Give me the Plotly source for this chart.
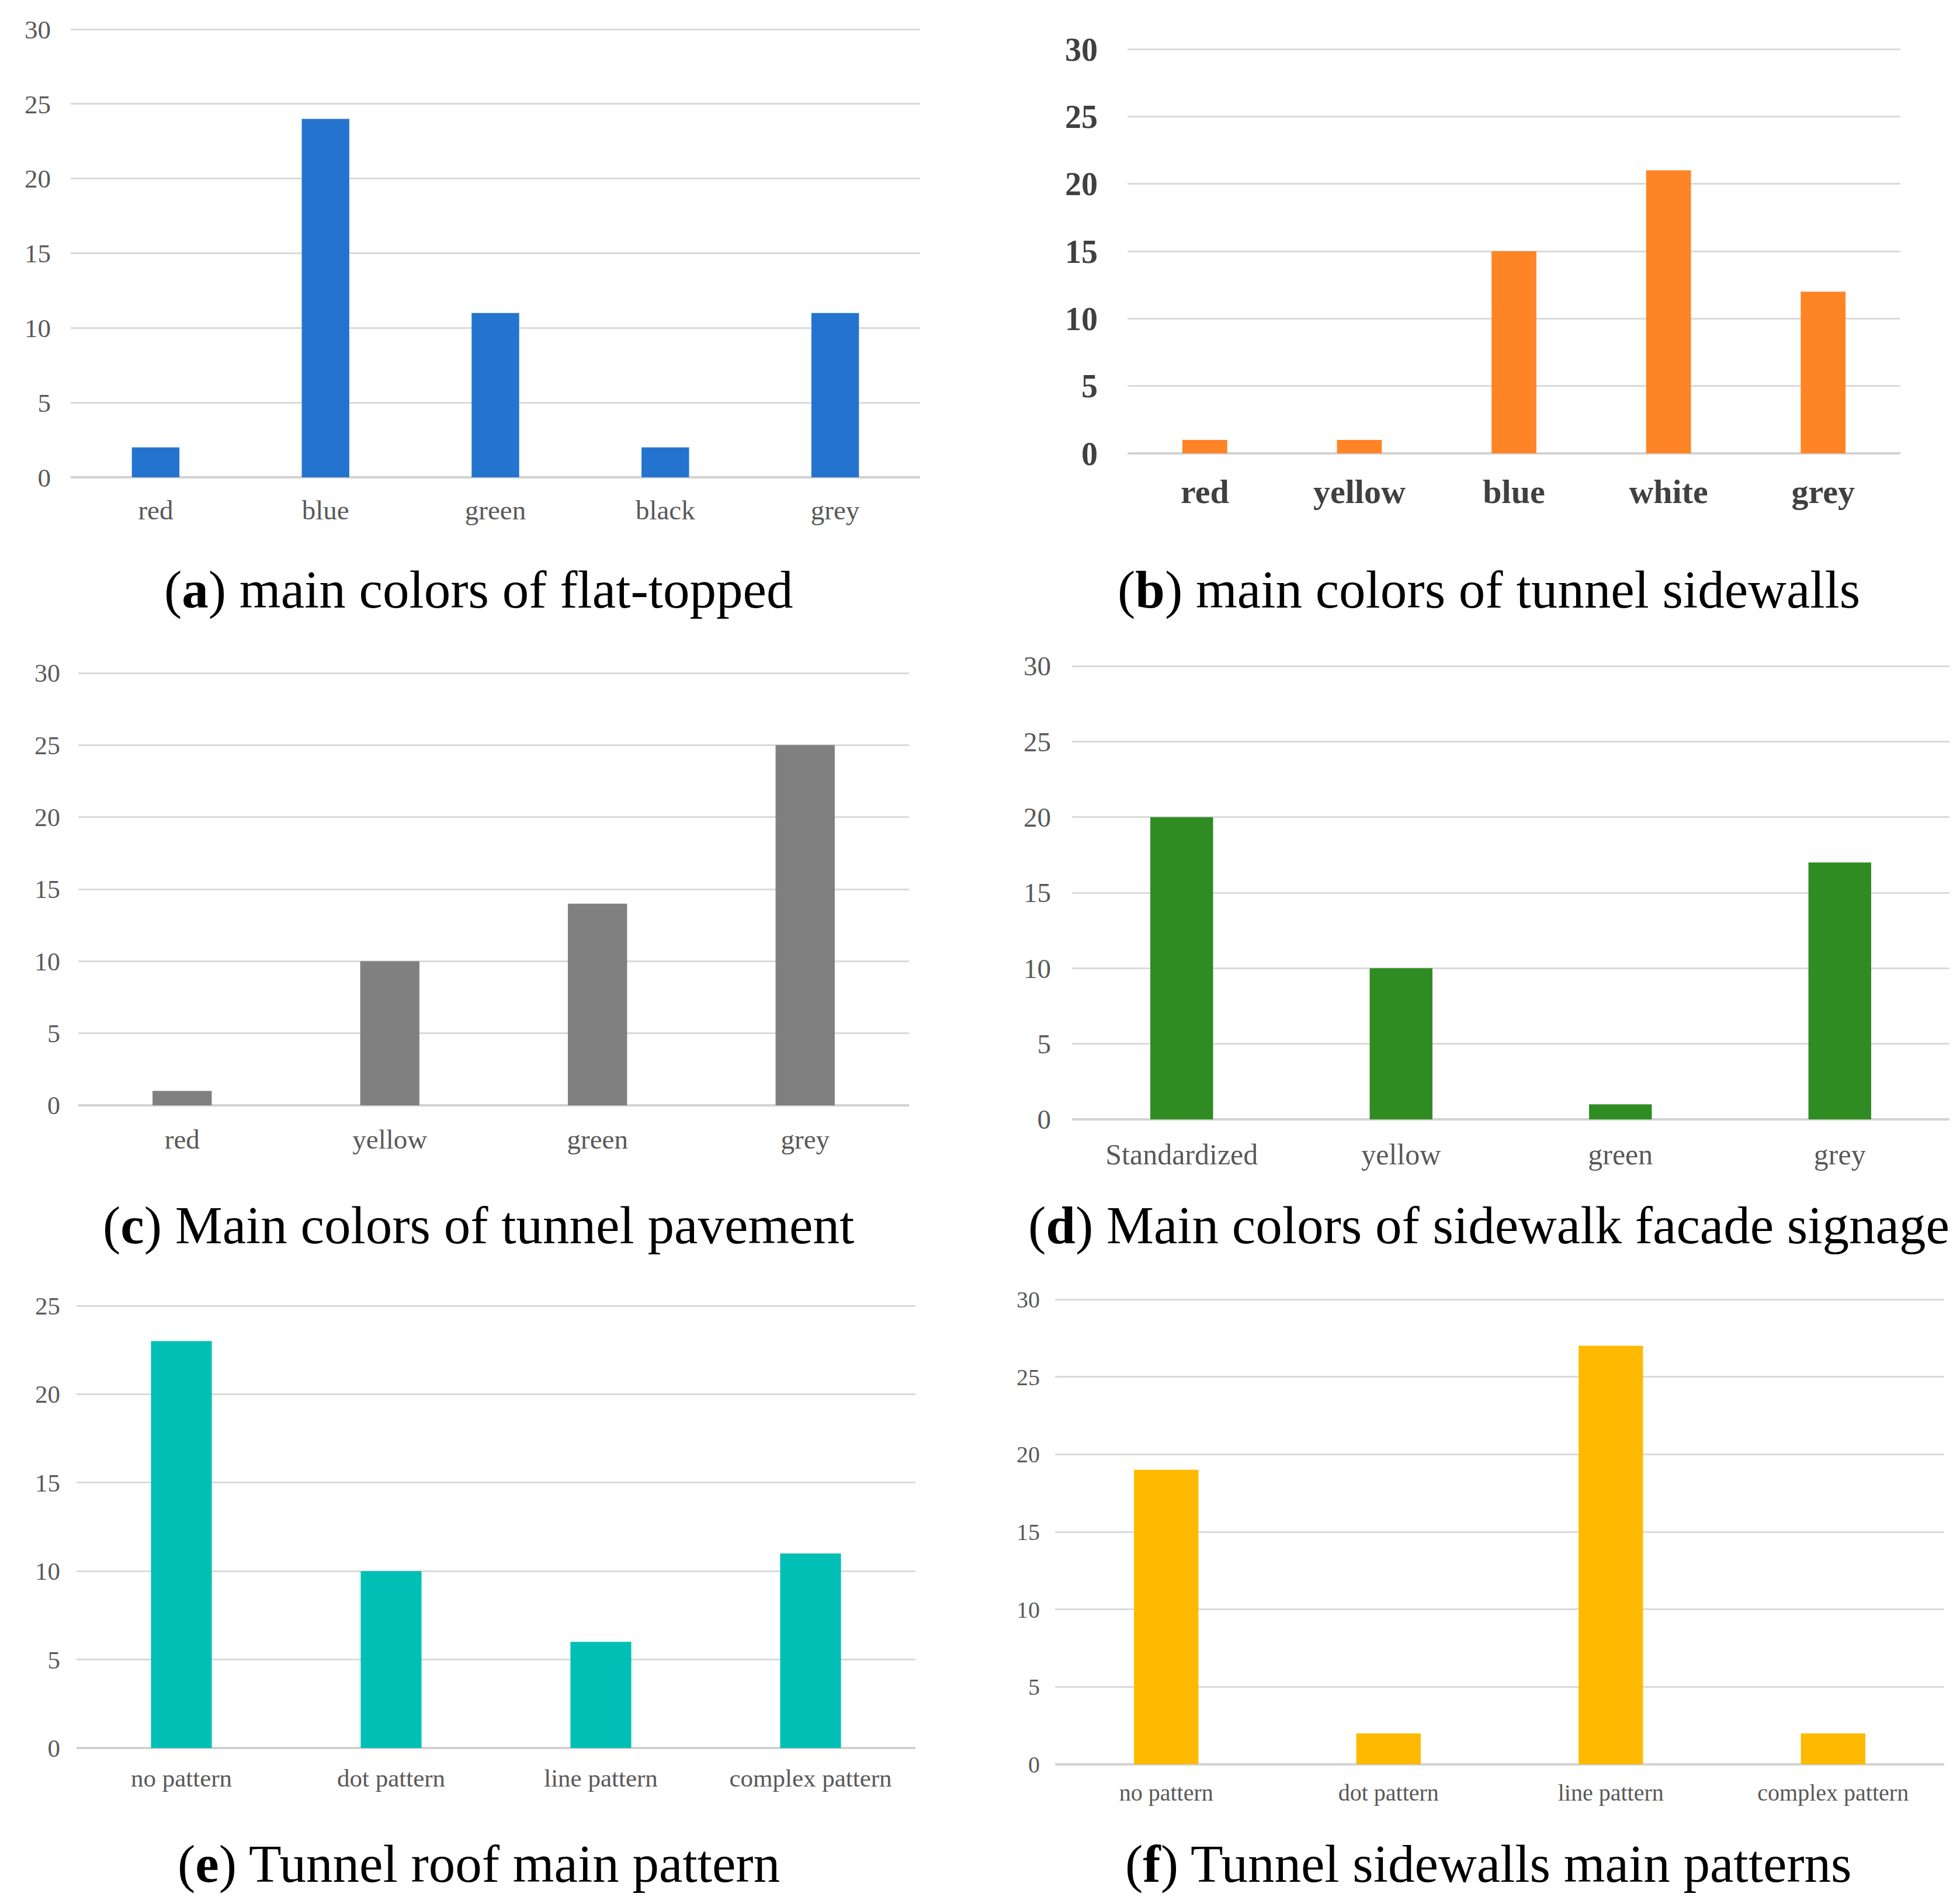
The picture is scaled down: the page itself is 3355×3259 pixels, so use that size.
import plotly.graph_objects as go

W, H = 3355, 3259

# data
cats_a = ["red", "blue", "green", "black", "grey"]
vals_a = [2, 24, 11, 2, 11]

cats_b = ["red", "yellow", "blue", "white", "grey"]
vals_b = [1, 1, 15, 21, 12]

cats_c = ["red", "yellow", "green", "grey"]
vals_c = [1, 10, 14, 25]

cats_d = ["Standardized", "yellow", "green", "grey"]
vals_d = [20, 10, 1, 17]

cats_e = ["no pattern", "dot pattern", "line pattern", "complex pattern"]
vals_e = [23, 10, 6, 11]

cats_f = ["no pattern", "dot pattern", "line pattern", "complex pattern"]
vals_f = [19, 2, 27, 2]

captions = [
    "(<b>a</b>) main colors of flat-topped",
    "(<b>b</b>) main colors of tunnel sidewalls",
    "(<b>c</b>) Main colors of tunnel pavement",
    "(<b>d</b>) Main colors of sidewalk facade signage",
    "(<b>e</b>) Tunnel roof main pattern",
    "(<b>f</b>) Tunnel sidewalls main patterns",
]


def fx(v):
    return v / W


def fy(v):
    return 1 - v / H


# pixel boxes: x left, x right, y of zero line, y of top gridline
# (cats, vals, colour, x0, x1, yz, yt, ymax, tick size, cat size, y standoff, x standoff, bold, bar width)
panels = [
    (cats_a, vals_a, "#2474CF", 121, 1575, 817, 50, 30, 45, 47, 33, 24, False, 0.28),
    (cats_b, vals_b, "#FF8425", 1930, 3253, 776, 84, 30, 56, 58, 50, 26, True, 0.29),
    (cats_c, vals_c, "#808080", 134, 1556, 1892, 1152, 30, 44, 47, 30, 26, False, 0.285),
    (cats_d, vals_d, "#2E8C22", 1835, 3337, 1916, 1140, 30, 47, 50, 35, 26, False, 0.286),
    (cats_e, vals_e, "#00C0B5", 131, 1567, 2992, 2235, 25, 43, 43, 27, 22, False, 0.29),
    (cats_f, vals_f, "#FFB900", 1806, 3328, 3020, 2224, 30, 40, 40, 25, 21, False, 0.29),
]
cap_pos = [(819, 1010), (2548, 1010), (819, 2097), (2548, 2097), (819, 3190), (2548, 3190)]

fig = go.Figure()
layout = {}
pad = 1.01  # small headroom so the top gridline gets drawn
for i, (cats, vals, col, x0, x1, yz, yt, ymax, tsz, csz, ysd, xsd, bold, bw) in enumerate(panels):
    n = "" if i == 0 else str(i + 1)
    fig.add_trace(go.Bar(
        x=cats, y=vals, marker_color=col, marker_line_width=0,
        xaxis="x" + n, yaxis="y" + n, width=bw, showlegend=False,
    ))
    tcol = "#404040" if bold else "#595959"
    wt = "bold" if bold else "normal"
    top_px = yz - (yz - yt) * pad
    layout["xaxis" + n] = dict(
        domain=[fx(x0), fx(x1)], anchor="y" + n, showgrid=False, showline=False,
        zeroline=False, ticks="", automargin=False, ticklabelstandoff=xsd,
        tickfont=dict(family="Liberation Serif", size=csz, color=tcol, weight=wt),
        range=[-0.5, len(cats) - 0.5],
    )
    layout["yaxis" + n] = dict(
        domain=[fy(yz), fy(top_px)], anchor="x" + n, range=[0, ymax * pad],
        tickvals=list(range(0, ymax + 1, 5)), automargin=False,
        showgrid=True, gridcolor="#DADADA", gridwidth=3, zeroline=True,
        zerolinecolor="#D2D2D2", zerolinewidth=4, showline=False, ticks="",
        ticklabelstandoff=ysd,
        tickfont=dict(family="Liberation Serif", size=tsz, color=tcol, weight=wt),
    )

annotations = []
for cap, (cx, cy) in zip(captions, cap_pos):
    annotations.append(dict(
        text=cap, x=fx(cx), y=fy(cy), xref="paper", yref="paper",
        xanchor="center", yanchor="middle", showarrow=False,
        font=dict(family="Liberation Serif", size=91, color="#000000"),
    ))

fig.update_layout(
    **layout,
    template="none",
    width=W, height=H,
    margin=dict(l=0, r=0, t=0, b=0, autoexpand=False),
    plot_bgcolor="white", paper_bgcolor="white",
    annotations=annotations,
    showlegend=False,
)

# the page body has a default 8px margin; drop it so the figure sits at 0,0
fig.write_html(
    "out.html",
    config={"displayModeBar": False},
    post_script="document.body.style.margin='0px';",
)
